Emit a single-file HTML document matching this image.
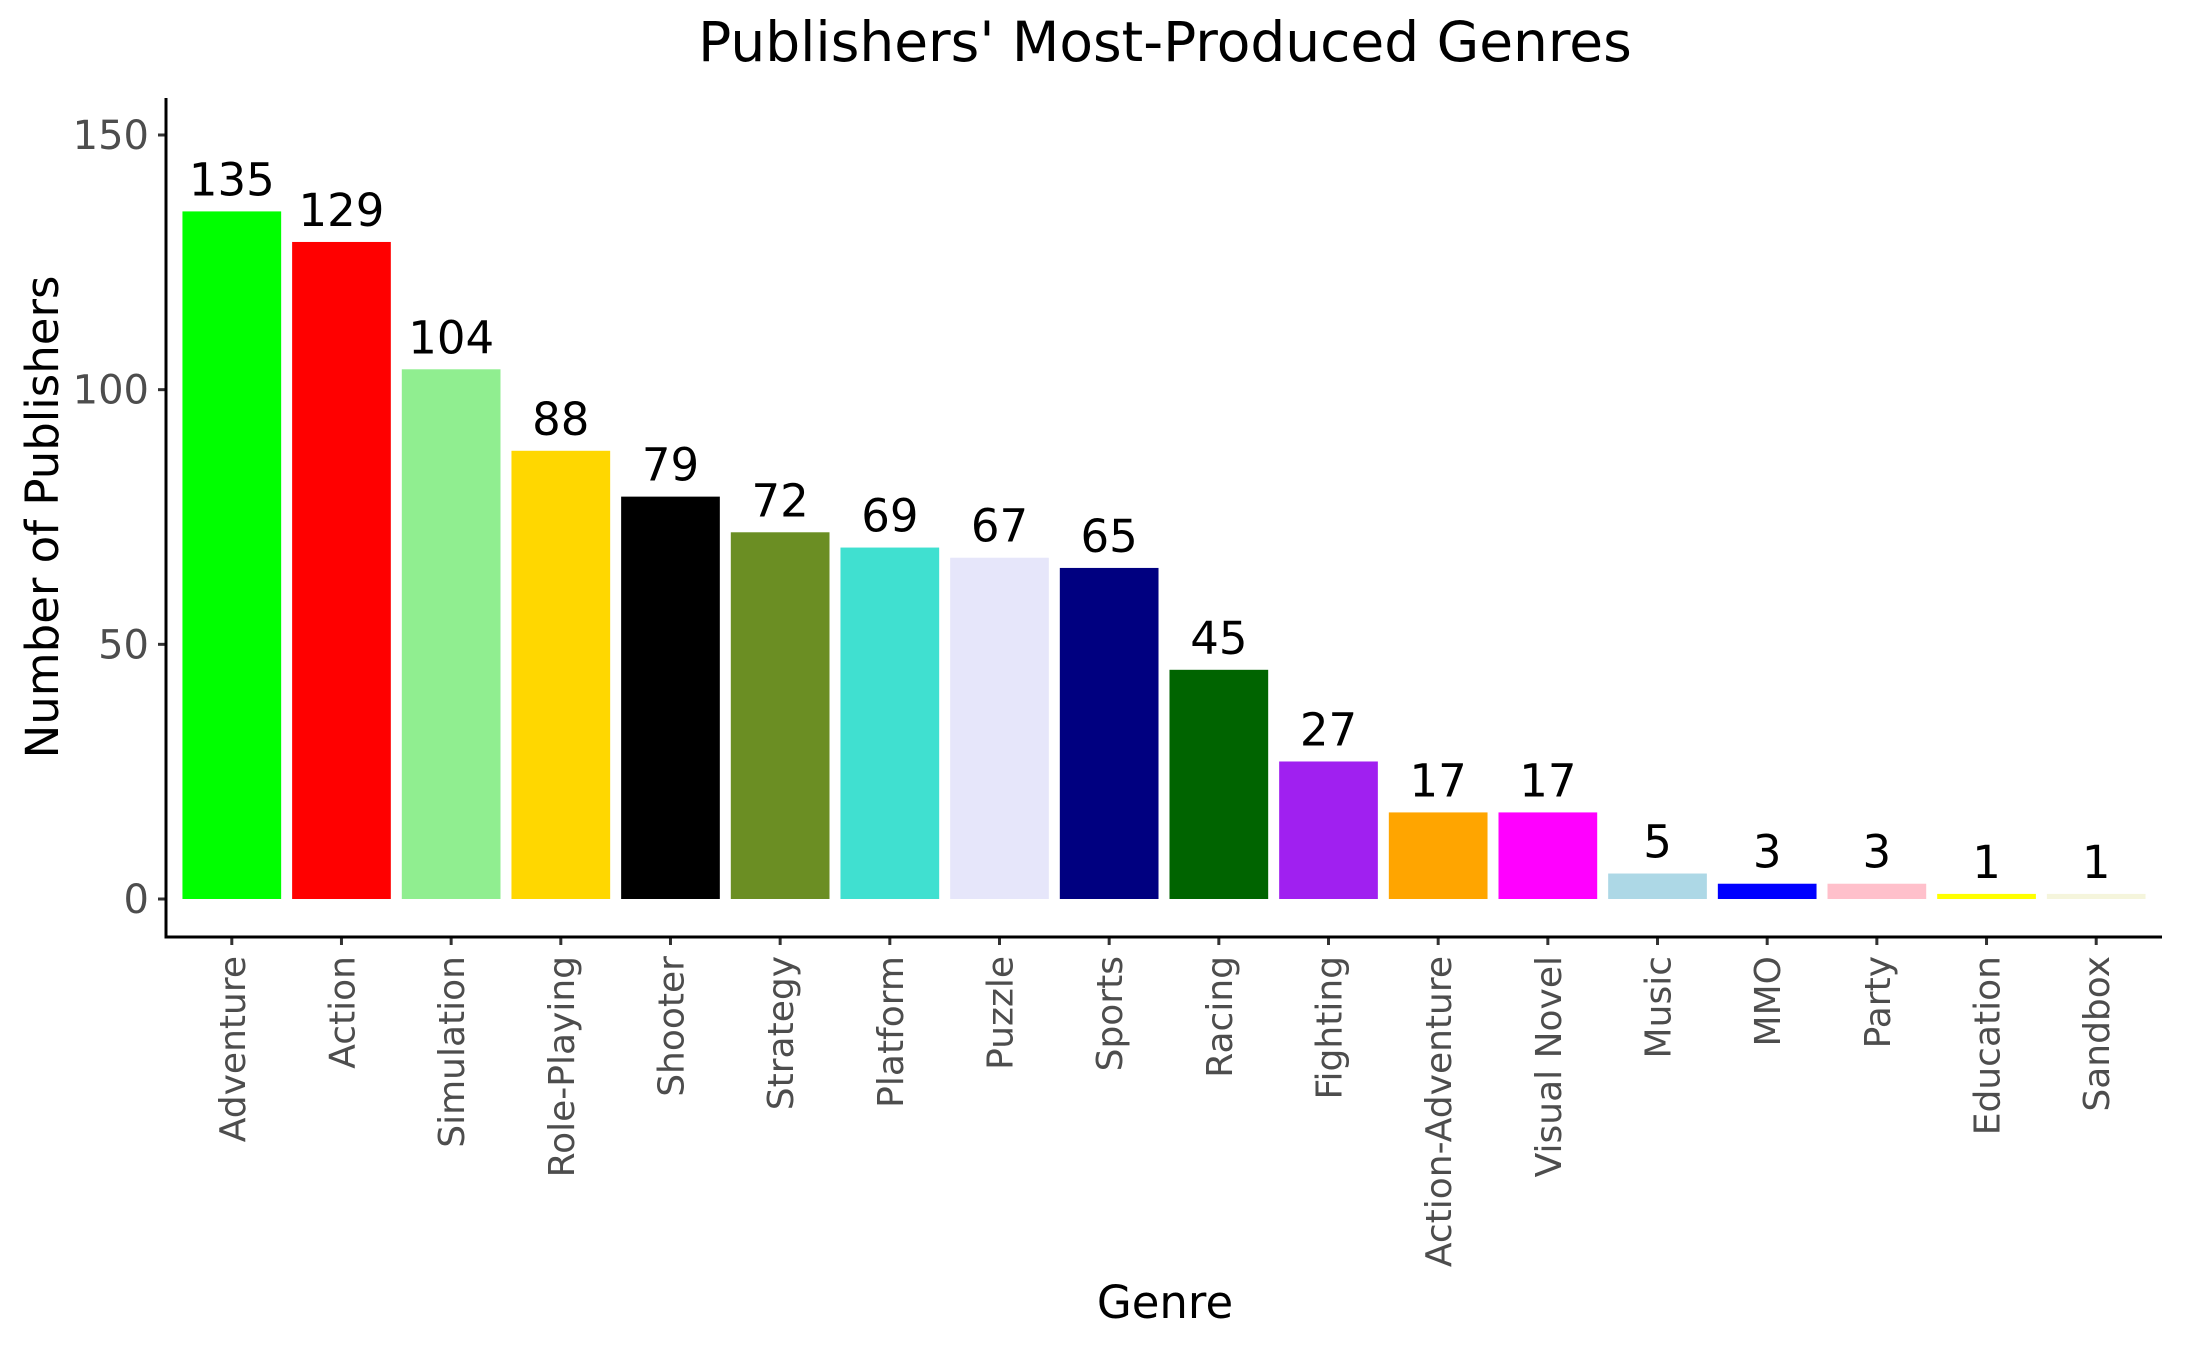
<!DOCTYPE html>
<html><head><meta charset="utf-8"><style>
html,body{margin:0;padding:0;background:#fff;}
svg{display:block;font-family:"DejaVu Sans","Liberation Sans",sans-serif;}
</style></head><body>
<svg id="chart" width="2187" height="1350" viewBox="0 0 2187 1350">
<text x="1165" y="61" font-size="55" text-anchor="middle" fill="#000">Publishers' Most-Produced Genres</text>
<text transform="translate(58,517) rotate(-90)" font-size="45" text-anchor="middle" fill="#000">Number of Publishers</text>
<text x="1165" y="1318" font-size="45" text-anchor="middle" fill="#000">Genre</text>
<g id="bars"></g><g id="yaxis"></g><g id="xaxis"></g>
</svg>
<script>
const categories = ["Adventure","Action","Simulation","Role-Playing","Shooter","Strategy","Platform","Puzzle","Sports","Racing","Fighting","Action-Adventure","Visual Novel","Music","MMO","Party","Education","Sandbox"];
const values = [135,129,104,88,79,72,69,67,65,45,27,17,17,5,3,3,1,1];
const colors = ["#00ff00","#ff0000","#90ee90","#ffd700","#000000","#6b8e23","#40e0d0","#e6e6fa","#000080","#006400","#a020f0","#ffa500","#ff00ff","#add8e6","#0000ff","#ffc0cb","#ffff00","#f5f5dc"];
const yTicks = [0,50,100,150];
const NS="http://www.w3.org/2000/svg";
const x0=166, x1=2162, yBase=899, yTop=135, vTop=150;
const band=(x1-x0)/(categories.length+0.2);
function xc(i){return x0+band*(0.6+i);}
function ys(v){return yBase-(yBase-yTop)*v/vTop;}
function mk(t,a){const e=document.createElementNS(NS,t);for(const k in a)e.setAttribute(k,a[k]);return e;}
const bars=document.getElementById('bars'), ya=document.getElementById('yaxis'), xa=document.getElementById('xaxis');
categories.forEach((c,i)=>{
  const w=band*0.9, v=values[i];
  const r=mk('rect',{x:xc(i)-w/2,y:ys(v),width:w,height:yBase-ys(v),fill:colors[i]});
  
  
  bars.appendChild(r);
  const t=mk('text',{x:xc(i),y:ys(v)-16,'font-size':45,'text-anchor':'middle',fill:'#000'});
  t.textContent=v;
  
  
  bars.appendChild(t);
  const tk=mk('line',{x1:xc(i),x2:xc(i),y1:937,y2:945,stroke:'#333','stroke-width':3});
  
  
  xa.appendChild(tk);
  const lb=mk('text',{transform:`translate(${xc(i)+13},956) rotate(-90)`,'font-size':36,'text-anchor':'end',fill:'#4d4d4d'});
  lb.textContent=c;
  
  
  xa.appendChild(lb);
});
yTicks.forEach(v=>{
  const tk=mk('line',{x1:158,x2:166,y1:ys(v),y2:ys(v),stroke:'#333','stroke-width':3});
  
  
  ya.appendChild(tk);
  const lb=mk('text',{x:149,y:ys(v)+14,'font-size':40,'text-anchor':'end',fill:'#4d4d4d'});
  lb.textContent=v;
  
  
  ya.appendChild(lb);
});
const yl=mk('line',{x1:166,x2:166,y1:98,y2:938.5,stroke:'#000','stroke-width':3});


ya.appendChild(yl);
const xl=mk('line',{x1:164.5,x2:2162,y1:937,y2:937,stroke:'#000','stroke-width':3});


xa.appendChild(xl);
</script>
</body></html>
